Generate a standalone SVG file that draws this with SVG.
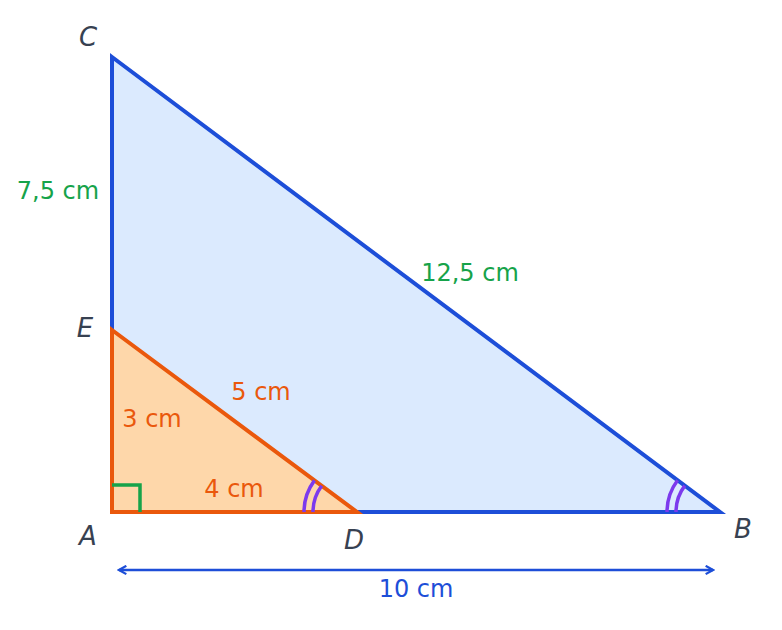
<svg xmlns="http://www.w3.org/2000/svg" width="782" height="630" viewBox="0 0 782 630">
<defs>
<style>
.pt{font-family:"DejaVu Sans",sans-serif;font-style:italic;font-size:26px;fill:#374151;text-anchor:middle}
.ms{font-family:"DejaVu Sans",sans-serif;font-size:24px;text-anchor:middle}
.g{fill:#16a34a}.o{fill:#ea580c}.b{fill:#1d4ed8}
.arc{fill:none;stroke:#7c3aed;stroke-width:3.5}
</style>
<marker id="ah" viewBox="0 0 12 12" refX="10" refY="6" markerWidth="11" markerHeight="11" markerUnits="userSpaceOnUse" orient="auto-start-reverse">
<path d="M2,1.5 L10,6 L2,10.5" fill="none" stroke="#1d4ed8" stroke-width="2.5"/>
</marker>
</defs>
<rect width="782" height="630" fill="#ffffff"/>
<g id="triangle-ABC">
<polygon points="112,57 720,512 112,512" fill="#dbeafe" stroke="#1d4ed8" stroke-width="4" stroke-linejoin="miter"/>
</g>
<g id="triangle-ADE">
<polygon points="112,330 357,512 112,512" fill="#fed7aa" stroke="#ea580c" stroke-width="4"/>
</g>
<g id="connectors">
<line x1="119" y1="570" x2="713" y2="570" stroke="#1d4ed8" stroke-width="2.5" marker-start="url(#ah)" marker-end="url(#ah)"/>
</g>
<g id="marks">
<polyline points="112,485 140,485 140,512" fill="none" stroke="#16a34a" stroke-width="3.5"/>
<path class="arc" d="M304,512 A53,53 0 0 1 314.5,480.4"/>
<path class="arc" d="M313,512 A44,44 0 0 1 321.7,485.8"/>
<path class="arc" d="M667,512 A53,53 0 0 1 677.6,480.2"/>
<path class="arc" d="M676,512 A44,44 0 0 1 684.8,485.6"/>
</g>
<g id="point-labels">
<text class="pt" x="88" y="46">C</text>
<text class="pt" x="85" y="337">E</text>
<text class="pt" x="88" y="545">A</text>
<text class="pt" x="354" y="549">D</text>
<text class="pt" x="743" y="538">B</text>
</g>
<g id="measure-labels">
<text class="ms g" x="58" y="199">7,5 cm</text>
<text class="ms g" x="470" y="281">12,5 cm</text>
<text class="ms o" x="261" y="400">5 cm</text>
<text class="ms o" x="152" y="427">3 cm</text>
<text class="ms o" x="234" y="497">4 cm</text>
<text class="ms b" x="416" y="597">10 cm</text>
</g>
</svg>
